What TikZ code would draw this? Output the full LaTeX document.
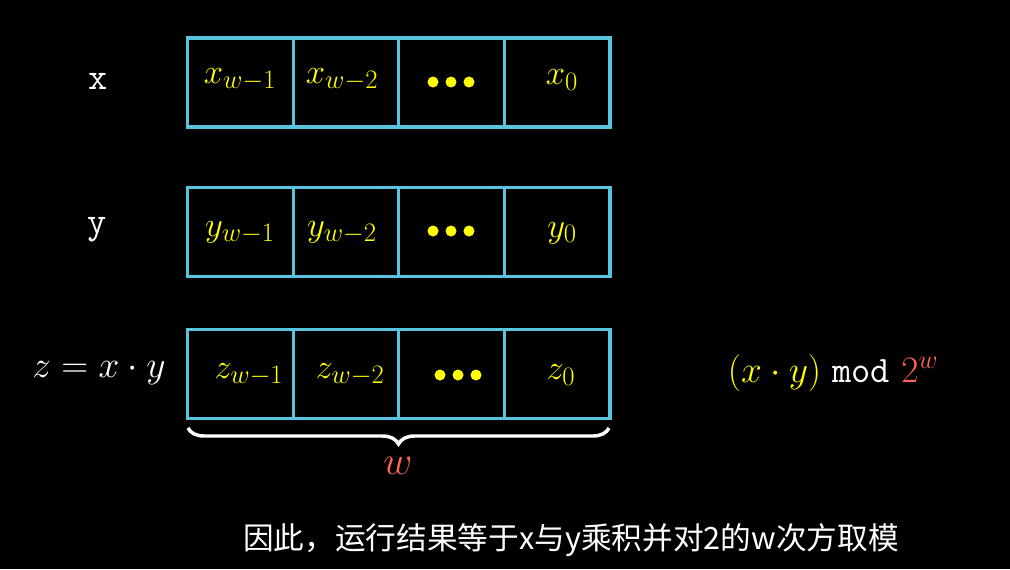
\RequirePackage{fix-cm}
\documentclass[tikz,border=0pt]{standalone}
\usepackage{fontspec}
\newfontfamily\cjk{Noto Sans CJK SC}
\usetikzlibrary{decorations.pathreplacing}
\DeclareMathSizes{26}{26}{20}{15}
\definecolor{cellblue}{HTML}{58C4DD}
\definecolor{myyellow}{HTML}{FFFF00}
\definecolor{myred}{HTML}{FC6255}
\tikzset{
  cell/.style={draw=cellblue, line width=2.4pt, minimum width=105.6*0.75pt, minimum height=89*0.75pt, inner sep=0pt},
  bit/.style={text=myyellow, font=\fontsize{26}{30}\selectfont},
  rowlab/.style={text=white, font=\fontsize{28}{33}\selectfont},
  dotc/.style={fill=myyellow, circle, inner sep=0pt, minimum size=11*0.75pt},
}
\begin{document}
\begin{tikzpicture}[x=0.75pt,y=-0.75pt]
\fill[black] (0,0) rectangle (1010,569);
\useasboundingbox (0,0) rectangle (1010,569);
% rows
\foreach \r/\c in {x/82.5, y/232, z/374}{
  \node[cell] (\r1) at (240.3,\c) {};
  \node[cell] (\r2) at (345.9,\c) {};
  \node[cell] (\r3) at (451.5,\c) {};
  \node[cell] (\r4) at (557.1,\c) {};
}
% x row
\node[rowlab] (lx) at (98,81) {\texttt{x}};
\node[bit] (x1) at (240,80) {$x_{w-1}$};
\node[bit] (x2) at (342,80) {$x_{w-2}$};
\node[dotc] (xd1) at (433,82) {};
\node[dotc] (xd2) at (451,82) {};
\node[dotc] (xd3) at (469,82) {};
\node[bit] (x0) at (562,80) {$x_0$};
% y row
\node[rowlab] (ly) at (97,230) {\texttt{y}};
\node[bit] (y1) at (240,233) {$y_{w-1}$};
\node[bit] (y2) at (342,233) {$y_{w-2}$};
\node[dotc] (yd1) at (433,231) {};
\node[dotc] (yd2) at (451,231) {};
\node[dotc] (yd3) at (469,231) {};
\node[bit] (y0) at (562,233) {$y_0$};
% z row
\node[rowlab] (lz) at (99,373) {$z=x\cdot y$};
\node[bit] (z1) at (249,375) {$z_{w-1}$};
\node[bit] (z2) at (350,375) {$z_{w-2}$};
\node[dotc] (zd1) at (440,375) {};
\node[dotc] (zd2) at (458,375) {};
\node[dotc] (zd3) at (476,375) {};
\node[bit] (z0) at (561,375) {$z_0$};
% brace
\coordinate (bl) at (188,428);
\coordinate (br) at (609,428);
\draw[white, line width=2.6pt, decorate, decoration={brace, mirror, amplitude=12pt}] (bl) -- (br);
\node[text=myred, font=\fontsize{30}{34}\selectfont] (wl) at (398,466) {$w$};
% expression
\node[font=\fontsize{28}{33}\selectfont, text=white] (expr) at (833,373) {\textcolor{myyellow}{$(x\cdot y)$} \texttt{mod} \textcolor{myred}{$2^w$}};
% caption
\node[text=white, font=\cjk\fontsize{23}{28}\selectfont] (cap) at (571,540) {因此，运行结果等于x与y乘积并对2的w次方取模};
\end{tikzpicture}
\end{document}
